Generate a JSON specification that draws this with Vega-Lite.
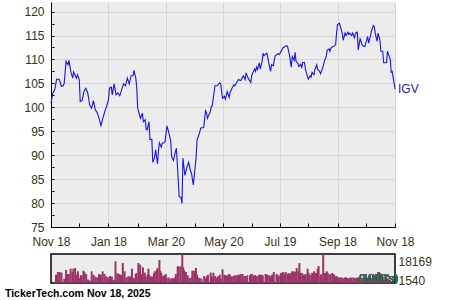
{
  "$schema": "https://vega.github.io/schema/vega-lite/v6.json",
  "background": "white",
  "padding": {"left": 4, "top": 2, "right": 0, "bottom": 0},
  "spacing": 6,
  "config": {
    "font": "Liberation Sans",
    "axis": {"labelFont": "Liberation Sans", "labelFontSize": 12, "labelColor": "#40300f", "domainColor": "#000000", "tickColor": "#000000", "gridColor": "#d6d6d6", "labelOverlap": false}
  },
  "title": {"text": "TickerTech.com  Nov 18, 2025", "orient": "bottom", "anchor": "start", "font": "Liberation Sans", "fontSize": 10.5, "fontWeight": "bold", "color": "#000000", "offset": 2, "dx": -19},
  "datasets": {
    "igv": [
      {"d":"2024-11-18","p":100.9,"v":5200},{"d":"2024-11-20","p":103.0,"v":6900},{"d":"2024-11-22","p":103.7,"v":6900},{"d":"2024-11-24","p":105.9,"v":6500},{"d":"2024-11-27","p":105.8,"v":2700},{"d":"2024-11-29","p":104.4,"v":8100},{"d":"2024-12-01","p":104.5,"v":5600},{"d":"2024-12-02","p":105.0,"v":5600},{"d":"2024-12-04","p":109.6,"v":9000},{"d":"2024-12-06","p":108.9,"v":6900},{"d":"2024-12-07","p":109.8,"v":9000},{"d":"2024-12-09","p":107.5,"v":9400},{"d":"2024-12-11","p":106.1,"v":5200},{"d":"2024-12-12","p":107.4,"v":7300},{"d":"2024-12-14","p":106.5,"v":3100},{"d":"2024-12-15","p":106.1,"v":4800},{"d":"2024-12-16","p":106.8,"v":4800},{"d":"2024-12-18","p":105.8,"v":7700},{"d":"2024-12-19","p":101.2,"v":6900},{"d":"2024-12-21","p":101.4,"v":5600},{"d":"2024-12-23","p":103.3,"v":2100},{"d":"2024-12-25","p":104.0,"v":1500},{"d":"2024-12-27","p":103.0,"v":7300},{"d":"2024-12-29","p":100.5,"v":5200},{"d":"2024-12-31","p":99.8,"v":4000},
      {"d":"2025-01-02","p":101.4,"v":3500},{"d":"2025-01-04","p":99.5,"v":5600},{"d":"2025-01-06","p":98.9,"v":5200},{"d":"2025-01-08","p":97.7,"v":7300},{"d":"2025-01-10","p":96.2,"v":5600},{"d":"2025-01-12","p":97.7,"v":4200},{"d":"2025-01-14","p":99.1,"v":3500},{"d":"2025-01-16","p":100.2,"v":4400},{"d":"2025-01-18","p":101.6,"v":4000},{"d":"2025-01-19","p":104.0,"v":1900},{"d":"2025-01-21","p":104.2,"v":2100},{"d":"2025-01-22","p":102.6,"v":13600},{"d":"2025-01-24","p":104.9,"v":6100},{"d":"2025-01-26","p":102.6,"v":5600},{"d":"2025-01-28","p":103.0,"v":5200},{"d":"2025-01-30","p":102.4,"v":12500},
      {"d":"2025-02-01","p":103.7,"v":7300},{"d":"2025-02-03","p":104.9,"v":3500},{"d":"2025-02-05","p":104.5,"v":4200},{"d":"2025-02-07","p":106.1,"v":4200},{"d":"2025-02-09","p":104.9,"v":9000},{"d":"2025-02-11","p":106.6,"v":3100},{"d":"2025-02-13","p":106.6,"v":5600},{"d":"2025-02-14","p":107.7,"v":6300},{"d":"2025-02-16","p":106.1,"v":12500},{"d":"2025-02-17","p":104.0,"v":6900},{"d":"2025-02-18","p":99.8,"v":11500},{"d":"2025-02-20","p":98.4,"v":5600},{"d":"2025-02-21","p":97.7,"v":9800},{"d":"2025-02-23","p":98.8,"v":6500},{"d":"2025-02-24","p":97.0,"v":4000},{"d":"2025-02-26","p":97.4,"v":5200},{"d":"2025-02-27","p":95.4,"v":9000},{"d":"2025-02-28","p":95.3,"v":5200},
      {"d":"2025-03-02","p":97.0,"v":4000},{"d":"2025-03-03","p":93.3,"v":4000},{"d":"2025-03-05","p":93.3,"v":6100},{"d":"2025-03-06","p":88.5,"v":7300},{"d":"2025-03-08","p":89.6,"v":8100},{"d":"2025-03-09","p":91.1,"v":9400},{"d":"2025-03-11","p":88.2,"v":14400},{"d":"2025-03-12","p":90.8,"v":7700},{"d":"2025-03-13","p":92.6,"v":6500},{"d":"2025-03-15","p":91.7,"v":4200},{"d":"2025-03-16","p":92.5,"v":4800},{"d":"2025-03-18","p":92.6,"v":5600},{"d":"2025-03-19","p":92.8,"v":3100},{"d":"2025-03-21","p":96.1,"v":3500},{"d":"2025-03-23","p":94.7,"v":2700},{"d":"2025-03-25","p":93.0,"v":3100},{"d":"2025-03-26","p":89.7,"v":2700},{"d":"2025-03-28","p":88.9,"v":3500},{"d":"2025-03-29","p":89.9,"v":5600},{"d":"2025-03-31","p":91.5,"v":10400},
      {"d":"2025-04-01","p":88.3,"v":10400},{"d":"2025-04-03","p":81.3,"v":10400},{"d":"2025-04-05","p":81.2,"v":18169},{"d":"2025-04-06","p":79.9,"v":9800},{"d":"2025-04-07","p":89.4,"v":8100},{"d":"2025-04-09","p":85.8,"v":6900},{"d":"2025-04-11","p":87.3,"v":4800},{"d":"2025-04-13","p":88.5,"v":3100},{"d":"2025-04-15","p":86.7,"v":3500},{"d":"2025-04-16","p":86.3,"v":7700},{"d":"2025-04-18","p":83.8,"v":7700},{"d":"2025-04-20","p":87.6,"v":9400},{"d":"2025-04-21","p":89.7,"v":5200},{"d":"2025-04-22","p":93.2,"v":3500},{"d":"2025-04-24","p":94.3,"v":3100},{"d":"2025-04-26","p":95.7,"v":2700},{"d":"2025-04-29","p":95.8,"v":4400},
      {"d":"2025-05-01","p":99.3,"v":3100},{"d":"2025-05-02","p":98.9,"v":4200},{"d":"2025-05-03","p":97.7,"v":5200},{"d":"2025-05-06","p":99.1,"v":6500},{"d":"2025-05-07","p":100.1,"v":4200},{"d":"2025-05-08","p":100.3,"v":3500},{"d":"2025-05-09","p":101.6,"v":6500},{"d":"2025-05-11","p":104.5,"v":4400},{"d":"2025-05-13","p":104.5,"v":3100},{"d":"2025-05-14","p":104.7,"v":4200},{"d":"2025-05-16","p":105.1,"v":5200},{"d":"2025-05-17","p":104.9,"v":2700},{"d":"2025-05-19","p":101.9,"v":8600},{"d":"2025-05-21","p":102.3,"v":5200},{"d":"2025-05-22","p":101.7,"v":4800},{"d":"2025-05-24","p":103.3,"v":4800},{"d":"2025-05-26","p":102.1,"v":5600},{"d":"2025-05-27","p":103.1,"v":5200},{"d":"2025-05-29","p":104.0,"v":4200},{"d":"2025-05-31","p":104.7,"v":4200},
      {"d":"2025-06-01","p":104.5,"v":4800},{"d":"2025-06-03","p":105.2,"v":4800},{"d":"2025-06-05","p":105.8,"v":5200},{"d":"2025-06-07","p":105.6,"v":5200},{"d":"2025-06-08","p":105.8,"v":5600},{"d":"2025-06-10","p":106.6,"v":5600},{"d":"2025-06-12","p":105.8,"v":4400},{"d":"2025-06-13","p":107.2,"v":4400},{"d":"2025-06-15","p":106.1,"v":4800},{"d":"2025-06-18","p":105.2,"v":4800},{"d":"2025-06-19","p":106.6,"v":5600},{"d":"2025-06-20","p":107.2,"v":5600},{"d":"2025-06-22","p":108.0,"v":4800},{"d":"2025-06-23","p":107.5,"v":4800},{"d":"2025-06-24","p":108.4,"v":4800},{"d":"2025-06-25","p":107.9,"v":4200},{"d":"2025-06-27","p":109.3,"v":4200},{"d":"2025-06-28","p":108.0,"v":5200},{"d":"2025-06-30","p":109.6,"v":5200},
      {"d":"2025-07-01","p":111.3,"v":4800},{"d":"2025-07-02","p":110.8,"v":4800},{"d":"2025-07-05","p":111.3,"v":5600},{"d":"2025-07-06","p":110.5,"v":5200},{"d":"2025-07-07","p":109.3,"v":5200},{"d":"2025-07-09","p":107.5,"v":4800},{"d":"2025-07-10","p":108.9,"v":4200},{"d":"2025-07-12","p":108.7,"v":5200},{"d":"2025-07-13","p":110.0,"v":5200},{"d":"2025-07-14","p":110.8,"v":6900},{"d":"2025-07-17","p":111.2,"v":5600},{"d":"2025-07-18","p":111.0,"v":5200},{"d":"2025-07-19","p":111.3,"v":4200},{"d":"2025-07-21","p":112.0,"v":5200},{"d":"2025-07-22","p":112.4,"v":6300},{"d":"2025-07-24","p":112.7,"v":6900},{"d":"2025-07-26","p":112.9,"v":5600},{"d":"2025-07-27","p":112.7,"v":6900},{"d":"2025-07-29","p":111.0,"v":5600},{"d":"2025-07-30","p":109.6,"v":6100},{"d":"2025-07-31","p":108.4,"v":5200},
      {"d":"2025-08-01","p":110.6,"v":6100},{"d":"2025-08-03","p":109.8,"v":7300},{"d":"2025-08-04","p":111.5,"v":6300},{"d":"2025-08-05","p":109.6,"v":7300},{"d":"2025-08-07","p":109.2,"v":6900},{"d":"2025-08-08","p":108.5,"v":9400},{"d":"2025-08-10","p":109.0,"v":7300},{"d":"2025-08-11","p":108.2,"v":12500},{"d":"2025-08-12","p":109.3,"v":6300},{"d":"2025-08-14","p":109.4,"v":6300},{"d":"2025-08-15","p":107.9,"v":5200},{"d":"2025-08-17","p":106.5,"v":5200},{"d":"2025-08-18","p":105.9,"v":5600},{"d":"2025-08-20","p":106.6,"v":9000},{"d":"2025-08-21","p":106.3,"v":6300},{"d":"2025-08-22","p":107.3,"v":5200},{"d":"2025-08-24","p":106.8,"v":5200},{"d":"2025-08-25","p":107.9,"v":6300},{"d":"2025-08-27","p":108.9,"v":7300},{"d":"2025-08-28","p":107.9,"v":6300},{"d":"2025-08-30","p":107.5,"v":6300},{"d":"2025-08-31","p":107.0,"v":9000},
      {"d":"2025-09-01","p":107.5,"v":10600},{"d":"2025-09-03","p":108.7,"v":4800},{"d":"2025-09-04","p":109.6,"v":5600},{"d":"2025-09-06","p":110.6,"v":18100},{"d":"2025-09-07","p":111.9,"v":6300},{"d":"2025-09-09","p":112.2,"v":6300},{"d":"2025-09-10","p":111.7,"v":7300},{"d":"2025-09-11","p":112.4,"v":6300},{"d":"2025-09-13","p":112.7,"v":5200},{"d":"2025-09-14","p":112.7,"v":5600},{"d":"2025-09-16","p":113.1,"v":6300},{"d":"2025-09-17","p":115.5,"v":5600},{"d":"2025-09-18","p":117.3,"v":5200},{"d":"2025-09-20","p":117.6,"v":4200},{"d":"2025-09-21","p":116.9,"v":4200},{"d":"2025-09-23","p":115.5,"v":3500},{"d":"2025-09-24","p":114.0,"v":3500},{"d":"2025-09-26","p":115.5,"v":3500},{"d":"2025-09-27","p":115.0,"v":3100},{"d":"2025-09-29","p":115.7,"v":3100},{"d":"2025-09-30","p":115.2,"v":3500},
      {"d":"2025-10-01","p":115.5,"v":3500},{"d":"2025-10-03","p":115.0,"v":3100},{"d":"2025-10-04","p":115.5,"v":3100},{"d":"2025-10-06","p":114.5,"v":3500},{"d":"2025-10-07","p":115.5,"v":3100},{"d":"2025-10-09","p":115.7,"v":3500},{"d":"2025-10-10","p":112.0,"v":3100},{"d":"2025-10-12","p":114.3,"v":3100},{"d":"2025-10-13","p":113.8,"v":3500},{"d":"2025-10-14","p":113.1,"v":3100},{"d":"2025-10-16","p":112.7,"v":3500},{"d":"2025-10-17","p":112.7,"v":3100},{"d":"2025-10-19","p":114.1,"v":3500},{"d":"2025-10-20","p":114.8,"v":3100},{"d":"2025-10-21","p":113.4,"v":3500},{"d":"2025-10-23","p":115.0,"v":3100},{"d":"2025-10-24","p":115.9,"v":3500},{"d":"2025-10-26","p":117.1,"v":3100},{"d":"2025-10-27","p":116.9,"v":3500},{"d":"2025-10-28","p":115.5,"v":3100},{"d":"2025-10-30","p":113.8,"v":3500},{"d":"2025-10-31","p":115.5,"v":3100},
      {"d":"2025-11-02","p":114.1,"v":3500},{"d":"2025-11-03","p":111.7,"v":4200},{"d":"2025-11-05","p":111.7,"v":6900},{"d":"2025-11-06","p":109.3,"v":6900},{"d":"2025-11-07","p":109.3,"v":6300},{"d":"2025-11-09","p":109.3,"v":5600},{"d":"2025-11-10","p":111.7,"v":4200},{"d":"2025-11-12","p":110.6,"v":3500},{"d":"2025-11-13","p":110.0,"v":3100},{"d":"2025-11-14","p":107.3,"v":3100},{"d":"2025-11-15","p":107.5,"v":2700},{"d":"2025-11-16","p":106.3,"v":2700},{"d":"2025-11-17","p":105.1,"v":2100},{"d":"2025-11-18","p":103.8,"v":1000}
    ]
  },
  "vconcat": [
    {
      "width": 344,
      "height": 225,
      "view": {"fill": "#ececec", "stroke": null},
      "data": {"name": "igv"},
      "encoding": {
        "x": {
          "field": "d", "type": "temporal",
          "scale": {"type": "utc", "domain": [{"year": 2024, "month": 11, "date": 18, "utc": true}, {"year": 2025, "month": 11, "date": 18, "utc": true}]},
          "axis": {
            "title": null,
            "values": [
              {"year": 2024, "month": 11, "date": 18, "utc": true}, {"year": 2024, "month": 12, "date": 18, "utc": true},
              {"year": 2025, "month": 1, "date": 18, "utc": true}, {"year": 2025, "month": 2, "date": 18, "utc": true},
              {"year": 2025, "month": 3, "date": 20, "utc": true}, {"year": 2025, "month": 4, "date": 20, "utc": true},
              {"year": 2025, "month": 5, "date": 20, "utc": true}, {"year": 2025, "month": 6, "date": 19, "utc": true},
              {"year": 2025, "month": 7, "date": 19, "utc": true}, {"year": 2025, "month": 8, "date": 18, "utc": true},
              {"year": 2025, "month": 9, "date": 18, "utc": true}, {"year": 2025, "month": 10, "date": 18, "utc": true},
              {"year": 2025, "month": 11, "date": 18, "utc": true}
            ],
            "labelExpr": "utcmonth(datum.value) % 2 == 0 ? utcFormat(datum.value, '%b %d') : ''",
            "labelFlush": false,
            "labelPadding": 13,
            "tickSize": -4,
            "gridOpacity": {"condition": {"test": "utcmonth(datum.value) % 2 == 0", "value": 1}, "value": 0}
          }
        },
        "y": {
          "field": "p", "type": "quantitative",
          "scale": {"domain": [75, 122], "nice": false, "zero": false},
          "axis": {
            "title": null,
            "values": [75, 77.5, 80, 82.5, 85, 87.5, 90, 92.5, 95, 97.5, 100, 102.5, 105, 107.5, 110, 112.5, 115, 117.5, 120],
            "labelExpr": "datum.value % 5 === 0 ? format(datum.value, 'd') : ''",
            "labelPadding": 10,
            "tickSize": -3,
            "labelBaseline": "middle",
            "gridOpacity": {"condition": {"test": "datum.value % 5 === 0", "value": 1}, "value": 0}
          }
        }
      },
      "layer": [
        {"mark": {"type": "line", "color": "#1414f0", "strokeWidth": 1.1, "interpolate": "linear"}},
        {
          "transform": [{"filter": "utcyear(datum.d) == 2025 && utcmonth(datum.d) == 10 && utcdate(datum.d) == 18"}],
          "mark": {"type": "text", "text": "IGV", "align": "left", "baseline": "middle", "dx": 3, "dy": 0, "fontSize": 12, "color": "#1a1ab4", "font": "Liberation Sans"}
        }
      ]
    },
    {
      "width": 344,
      "height": 29,
      "view": {"fill": "#ececec", "stroke": "#000000", "strokeWidth": 1.5},
      "data": {"name": "igv"},
      "encoding": {
        "x": {
          "field": "d", "type": "temporal",
          "scale": {"type": "utc", "domain": [{"year": 2024, "month": 11, "date": 18, "utc": true}, {"year": 2025, "month": 11, "date": 18, "utc": true}]},
          "axis": null
        }
      },
      "layer": [
        {
          "mark": {"type": "bar", "color": "#9c3366", "width": 2},
          "encoding": {
            "y": {
              "field": "v", "type": "quantitative",
              "scale": {"domain": [0, 18169], "nice": false},
              "axis": {
                "orient": "right", "title": null, "grid": false, "ticks": false, "domain": false,
                "values": [1540, 18169],
                "format": "d",
                "labelPadding": 3,
                "labelBaseline": "middle",
                "labelOffset": {"condition": {"test": "datum.value > 10000", "value": 7}, "value": 0}
              }
            }
          }
        },
        {
          "mark": {"type": "text", "text": "(1000's)", "align": "center", "baseline": "middle", "fontSize": 11, "color": "#2f6b4a", "opacity": 0.85, "font": "Liberation Sans"},
          "encoding": {
            "x": {"datum": {"year": 2025, "month": 11, "date": 5, "utc": true}, "type": "temporal"},
            "y": {"datum": 2400, "type": "quantitative"}
          }
        }
      ]
    }
  ]
}
